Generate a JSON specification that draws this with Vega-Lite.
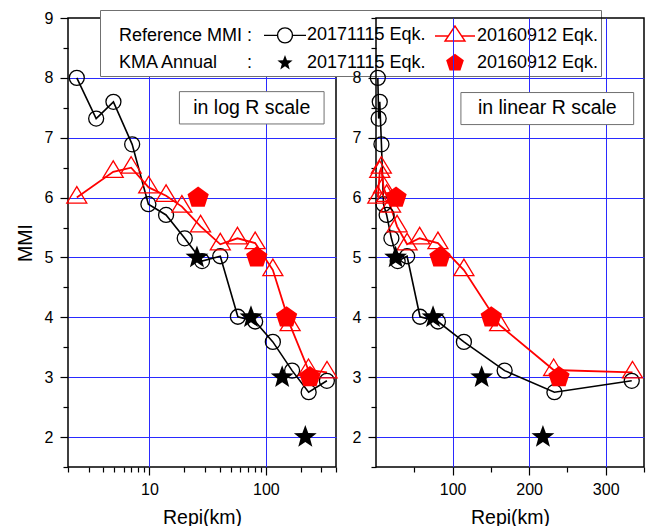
{
  "$schema": "https://vega.github.io/schema/vega-lite/v6.json",
  "padding": {"left": 14, "top": 8, "right": 2, "bottom": 0},
  "background": "white",
  "datasets": {
    "pts": [
      {"series": "A", "Repi": 2.38, "MMI": 8.0},
      {"series": "A", "Repi": 3.49, "MMI": 7.32},
      {"series": "A", "Repi": 4.91, "MMI": 7.6},
      {"series": "A", "Repi": 7.11, "MMI": 6.89},
      {"series": "A", "Repi": 9.8, "MMI": 5.89},
      {"series": "A", "Repi": 13.9, "MMI": 5.71},
      {"series": "A", "Repi": 20.1, "MMI": 5.32},
      {"series": "A", "Repi": 28.3, "MMI": 4.94},
      {"series": "A", "Repi": 40.6, "MMI": 5.02},
      {"series": "A", "Repi": 57.5, "MMI": 4.01},
      {"series": "A", "Repi": 80.9, "MMI": 3.93},
      {"series": "A", "Repi": 114.8, "MMI": 3.59},
      {"series": "A", "Repi": 168, "MMI": 3.11},
      {"series": "A", "Repi": 233, "MMI": 2.75},
      {"series": "A", "Repi": 334, "MMI": 2.94},
      {"series": "B", "Repi": 2.38, "MMI": 6.0},
      {"series": "B", "Repi": 4.89, "MMI": 6.43},
      {"series": "B", "Repi": 6.97, "MMI": 6.5},
      {"series": "B", "Repi": 9.86, "MMI": 6.17},
      {"series": "B", "Repi": 13.9, "MMI": 6.03},
      {"series": "B", "Repi": 19.0, "MMI": 5.85},
      {"series": "B", "Repi": 27.5, "MMI": 5.52},
      {"series": "B", "Repi": 40.6, "MMI": 5.22},
      {"series": "B", "Repi": 57.0, "MMI": 5.32},
      {"series": "B", "Repi": 80.9, "MMI": 5.24},
      {"series": "B", "Repi": 114.8, "MMI": 4.79},
      {"series": "B", "Repi": 161.5, "MMI": 3.87},
      {"series": "B", "Repi": 232, "MMI": 3.12},
      {"series": "B", "Repi": 335, "MMI": 3.08},
      {"series": "C", "Repi": 25.6, "MMI": 5},
      {"series": "C", "Repi": 74.5, "MMI": 4},
      {"series": "C", "Repi": 138, "MMI": 3},
      {"series": "C", "Repi": 218, "MMI": 2},
      {"series": "D", "Repi": 26.2, "MMI": 6},
      {"series": "D", "Repi": 83.5, "MMI": 5},
      {"series": "D", "Repi": 150.5, "MMI": 4},
      {"series": "D", "Repi": 239, "MMI": 3}
    ],
    "ann": [
      {"panel": "log", "x": 18.1, "x2": 316, "y": 7.23, "y2": 7.77, "xt": 75.6, "yt": 7.5, "label": "in log R scale"},
      {"panel": "lin", "x": 110.9, "x2": 336.5, "y": 7.22, "y2": 7.755, "xt": 223.7, "yt": 7.49, "label": "in linear R scale"}
    ]
  },
  "config": {
    "view": {"stroke": "black", "strokeWidth": 1.5},
    "font": "Liberation Sans",
    "axis": {
      "labelFont": "Liberation Sans", "labelFontSize": 16, "labelColor": "black",
      "titleFont": "Liberation Sans", "titleFontSize": 19.5, "titleFontWeight": "normal", "titleColor": "black",
      "tickColor": "black", "tickWidth": 1.2, "domain": false,
      "gridColor": "#2a2aff", "gridWidth": 1, "gridOpacity": 1
    },
    "legend": {
      "orient": "none", "legendX": 32, "legendY": -8, "columns": 3, "direction": "horizontal",
      "titleFontSize": 7, "titlePadding": 7,
      "padding": 2, "strokeColor": "#707070", "fillColor": "white",
      "labelFont": "Liberation Sans", "labelFontSize": 18, "labelColor": "black", "labelLimit": 400,
      "labelOffset": 13, "symbolOffset": -14, "symbolSize": 100, "symbolStrokeWidth": 1.4, "symbolOpacity": 1,
      "columnPadding": 6, "rowPadding": 4
    }
  },
  "resolve": {"scale": {"shape": "independent", "fill": "independent", "stroke": "independent"}},
  "bounds": "flush",
  "spacing": 40,
  "hconcat": [
    {
      "width": 268, "height": 449,
      "resolve": {"axis": {"x": "independent", "y": "independent"}, "scale": {"shape": "independent"}},
      "layer": [
        {
          "data": {"name": "ann"},
          "transform": [{"filter": "datum.panel === 'log'"}],
          "mark": {"type": "rect", "fill": "white", "stroke": "#707070", "strokeWidth": 1},
          "encoding": {
            "x": {"field": "x", "type": "quantitative", "scale": {"type": "log", "domain": [2, 400], "nice": false},
                  "axis": {"orient": "bottom", "values": [10, 100], "format": "d", "title": "Repi(km)", "tickSize": 8, "labelPadding": 6, "grid": true, "titleY": 56, "titleBaseline": "alphabetic"}},
            "x2": {"field": "x2"},
            "y": {"field": "y", "type": "quantitative", "scale": {"domain": [1.5, 9], "nice": false, "zero": false},
                  "axis": {"orient": "left", "values": [2, 3, 4, 5, 6, 7, 8, 9], "title": "MMI", "tickSize": 8, "labelPadding": 7, "grid": true,
                           "gridColor": {"condition": {"test": "datum.value === 9", "value": "transparent"}, "value": "#2a2aff"},
                           "titleX": -37, "titleBaseline": "alphabetic"}},
            "y2": {"field": "y2"}
          }
        },
        {
          "data": {"name": "ann"},
          "transform": [{"filter": "datum.panel === 'log'"}],
          "mark": {"type": "text", "font": "Liberation Sans", "fontSize": 19.5, "color": "black", "align": "center", "baseline": "middle"},
          "encoding": {
            "x": {"field": "xt", "type": "quantitative", "axis": {"orient": "bottom", "values": [2, 3, 4, 5, 6, 7, 8, 9, 20, 30, 40, 50, 60, 70, 80, 90, 200, 300, 400], "labels": false, "tickSize": 5, "grid": false, "title": null}},
            "y": {"field": "yt", "type": "quantitative", "axis": {"orient": "left", "values": [1.5, 2.5, 3.5, 4.5, 5.5, 6.5, 7.5, 8.5], "labels": false, "tickSize": 5, "grid": false, "title": null}},
            "text": {"field": "label"}
          }
        },
        {
          "data": {"name": "pts"},
          "transform": [{"filter": "datum.series === 'A'"}],
          "mark": {"type": "line", "color": "black", "strokeWidth": 1.6},
          "encoding": {
            "x": {"field": "Repi", "type": "quantitative", "axis": null},
            "y": {"field": "MMI", "type": "quantitative", "axis": null}
          }
        },
        {
          "data": {"name": "pts"},
          "transform": [{"filter": "datum.series === 'B'"}],
          "mark": {"type": "line", "color": "red", "strokeWidth": 1.8},
          "encoding": {
            "x": {"field": "Repi", "type": "quantitative", "axis": null},
            "y": {"field": "MMI", "type": "quantitative", "axis": null}
          }
        },
        {
          "data": {"name": "pts"},
          "mark": {"type": "point", "size": 400, "strokeWidth": 1.3, "opacity": 1},
          "encoding": {
            "x": {"field": "Repi", "type": "quantitative", "axis": null},
            "y": {"field": "MMI", "type": "quantitative", "axis": null},
            "shape": {"field": "series", "type": "nominal",
              "scale": {"domain": ["A", "B", "C", "D"],
                        "range": ["M0.75,0A0.75,0.75,0,1,1,-0.75,0A0.75,0.75,0,1,1,0.75,0Z", "M0,-1.1L-1,0.55L1,0.55Z", "M0,-1.2L0.294,-0.405L1.141,-0.371L0.476,0.155L0.705,0.971L0,0.5L-0.705,0.971L-0.476,0.155L-1.141,-0.371L-0.294,-0.405Z", "M0,-1.12L1.065,-0.346L0.658,0.906L-0.658,0.906L-1.065,-0.346Z"]},
              "legend": null},
            "fill": {"field": "series", "type": "nominal",
              "scale": {"domain": ["A", "B", "C", "D"], "range": ["transparent", "transparent", "black", "red"]},
              "legend": null},
            "stroke": {"field": "series", "type": "nominal",
              "scale": {"domain": ["A", "B", "C", "D"], "range": ["black", "red", "transparent", "transparent"]},
              "legend": null}
          }
        },
        {
          "data": {"name": "pts"},
          "mark": {"type": "point", "size": 100, "strokeWidth": 1.4, "opacity": 0},
          "encoding": {
            "x": {"field": "Repi", "type": "quantitative", "axis": null},
            "y": {"field": "MMI", "type": "quantitative", "axis": null},
            "shape": {"field": "series", "type": "nominal",
              "scale": {"domain": ["R1", "A", "B", "R2", "C", "D"],
                        "range": ["M0,0", "M-4.2,0L-1.5,0M1.5,0L4.2,0M1.5,0A1.5,1.5,0,1,1,-1.5,0A1.5,1.5,0,1,1,1.5,0Z", "M-4,0L-1.33,0M1.33,0L4,0M0,-2L-2,1L2,1Z", "M0,0", "M0,-1.6L0.392,-0.54L1.521,-0.494L0.635,0.207L0.94,1.294L0,0.667L-0.94,1.294L-0.635,0.207L-1.521,-0.494L-0.392,-0.54Z", "M0,-1.86L1.769,-0.575L1.093,1.505L-1.093,1.505L-1.769,-0.575Z"]},
              "legend": {
                "title": " ",
                "symbolFillColor": {"expr": "datum.value === 'C' ? 'black' : datum.value === 'D' ? 'red' : 'transparent'"},
                "symbolStrokeColor": {"expr": "datum.value === 'A' ? 'black' : datum.value === 'B' ? 'red' : 'transparent'"},
                "labelExpr": "datum.value === 'R1' ? 'Reference MMI :' : datum.value === 'R2' ? 'KMA Annual\u00a0\u00a0\u00a0\u00a0\u00a0\u00a0:' : (datum.value === 'A' || datum.value === 'C') ? '20171115 Eqk.' : '20160912 Eqk.'"
              }},
            "fill": {"field": "series", "type": "nominal",
              "scale": {"domain": ["A", "B", "C", "D"], "range": ["transparent", "transparent", "black", "red"]},
              "legend": null},
            "stroke": {"field": "series", "type": "nominal",
              "scale": {"domain": ["A", "B", "C", "D"], "range": ["black", "red", "transparent", "transparent"]},
              "legend": null}
          }
        }
      ]
    },
    {
      "width": 268, "height": 449,
      "resolve": {"axis": {"x": "independent", "y": "independent"}},
      "layer": [
        {
          "data": {"name": "ann"},
          "transform": [{"filter": "datum.panel === 'lin'"}],
          "mark": {"type": "rect", "fill": "white", "stroke": "#707070", "strokeWidth": 1},
          "encoding": {
            "x": {"field": "x", "type": "quantitative", "scale": {"domain": [0, 350], "nice": false, "zero": false},
                  "axis": {"orient": "bottom", "values": [100, 200, 300], "title": "Repi(km)", "tickSize": 8, "labelPadding": 6, "grid": true, "titleY": 56, "titleBaseline": "alphabetic"}},
            "x2": {"field": "x2"},
            "y": {"field": "y", "type": "quantitative", "scale": {"domain": [1.5, 9], "nice": false, "zero": false},
                  "axis": {"orient": "left", "values": [2, 3, 4, 5, 6, 7, 8], "title": null, "tickSize": 8, "labelPadding": 7, "grid": true}},
            "y2": {"field": "y2"}
          }
        },
        {
          "data": {"name": "ann"},
          "transform": [{"filter": "datum.panel === 'lin'"}],
          "mark": {"type": "text", "font": "Liberation Sans", "fontSize": 19.5, "color": "black", "align": "center", "baseline": "middle"},
          "encoding": {
            "x": {"field": "xt", "type": "quantitative", "axis": {"orient": "bottom", "values": [50, 150, 250, 350], "labels": false, "tickSize": 5, "grid": false, "title": null}},
            "y": {"field": "yt", "type": "quantitative", "axis": {"orient": "left", "values": [1.5, 2.5, 3.5, 4.5, 5.5, 6.5, 7.5, 8.5, 9], "labels": false, "tickSize": 5, "grid": false, "title": null}},
            "text": {"field": "label"}
          }
        },
        {
          "data": {"name": "pts"},
          "transform": [{"filter": "datum.series === 'A'"}],
          "mark": {"type": "line", "color": "black", "strokeWidth": 1.6},
          "encoding": {
            "x": {"field": "Repi", "type": "quantitative", "axis": null},
            "y": {"field": "MMI", "type": "quantitative", "axis": null}
          }
        },
        {
          "data": {"name": "pts"},
          "transform": [{"filter": "datum.series === 'B'"}],
          "mark": {"type": "line", "color": "red", "strokeWidth": 1.8},
          "encoding": {
            "x": {"field": "Repi", "type": "quantitative", "axis": null},
            "y": {"field": "MMI", "type": "quantitative", "axis": null}
          }
        },
        {
          "data": {"name": "pts"},
          "mark": {"type": "point", "size": 400, "strokeWidth": 1.3, "opacity": 1},
          "encoding": {
            "x": {"field": "Repi", "type": "quantitative", "axis": null},
            "y": {"field": "MMI", "type": "quantitative", "axis": null},
            "shape": {"field": "series", "type": "nominal",
              "scale": {"domain": ["A", "B", "C", "D"],
                        "range": ["M0.75,0A0.75,0.75,0,1,1,-0.75,0A0.75,0.75,0,1,1,0.75,0Z", "M0,-1.1L-1,0.55L1,0.55Z", "M0,-1.2L0.294,-0.405L1.141,-0.371L0.476,0.155L0.705,0.971L0,0.5L-0.705,0.971L-0.476,0.155L-1.141,-0.371L-0.294,-0.405Z", "M0,-1.12L1.065,-0.346L0.658,0.906L-0.658,0.906L-1.065,-0.346Z"]},
              "legend": null},
            "fill": {"field": "series", "type": "nominal",
              "scale": {"domain": ["A", "B", "C", "D"], "range": ["transparent", "transparent", "black", "red"]},
              "legend": null},
            "stroke": {"field": "series", "type": "nominal",
              "scale": {"domain": ["A", "B", "C", "D"], "range": ["black", "red", "transparent", "transparent"]},
              "legend": null}
          }
        }
      ]
    }
  ]
}
